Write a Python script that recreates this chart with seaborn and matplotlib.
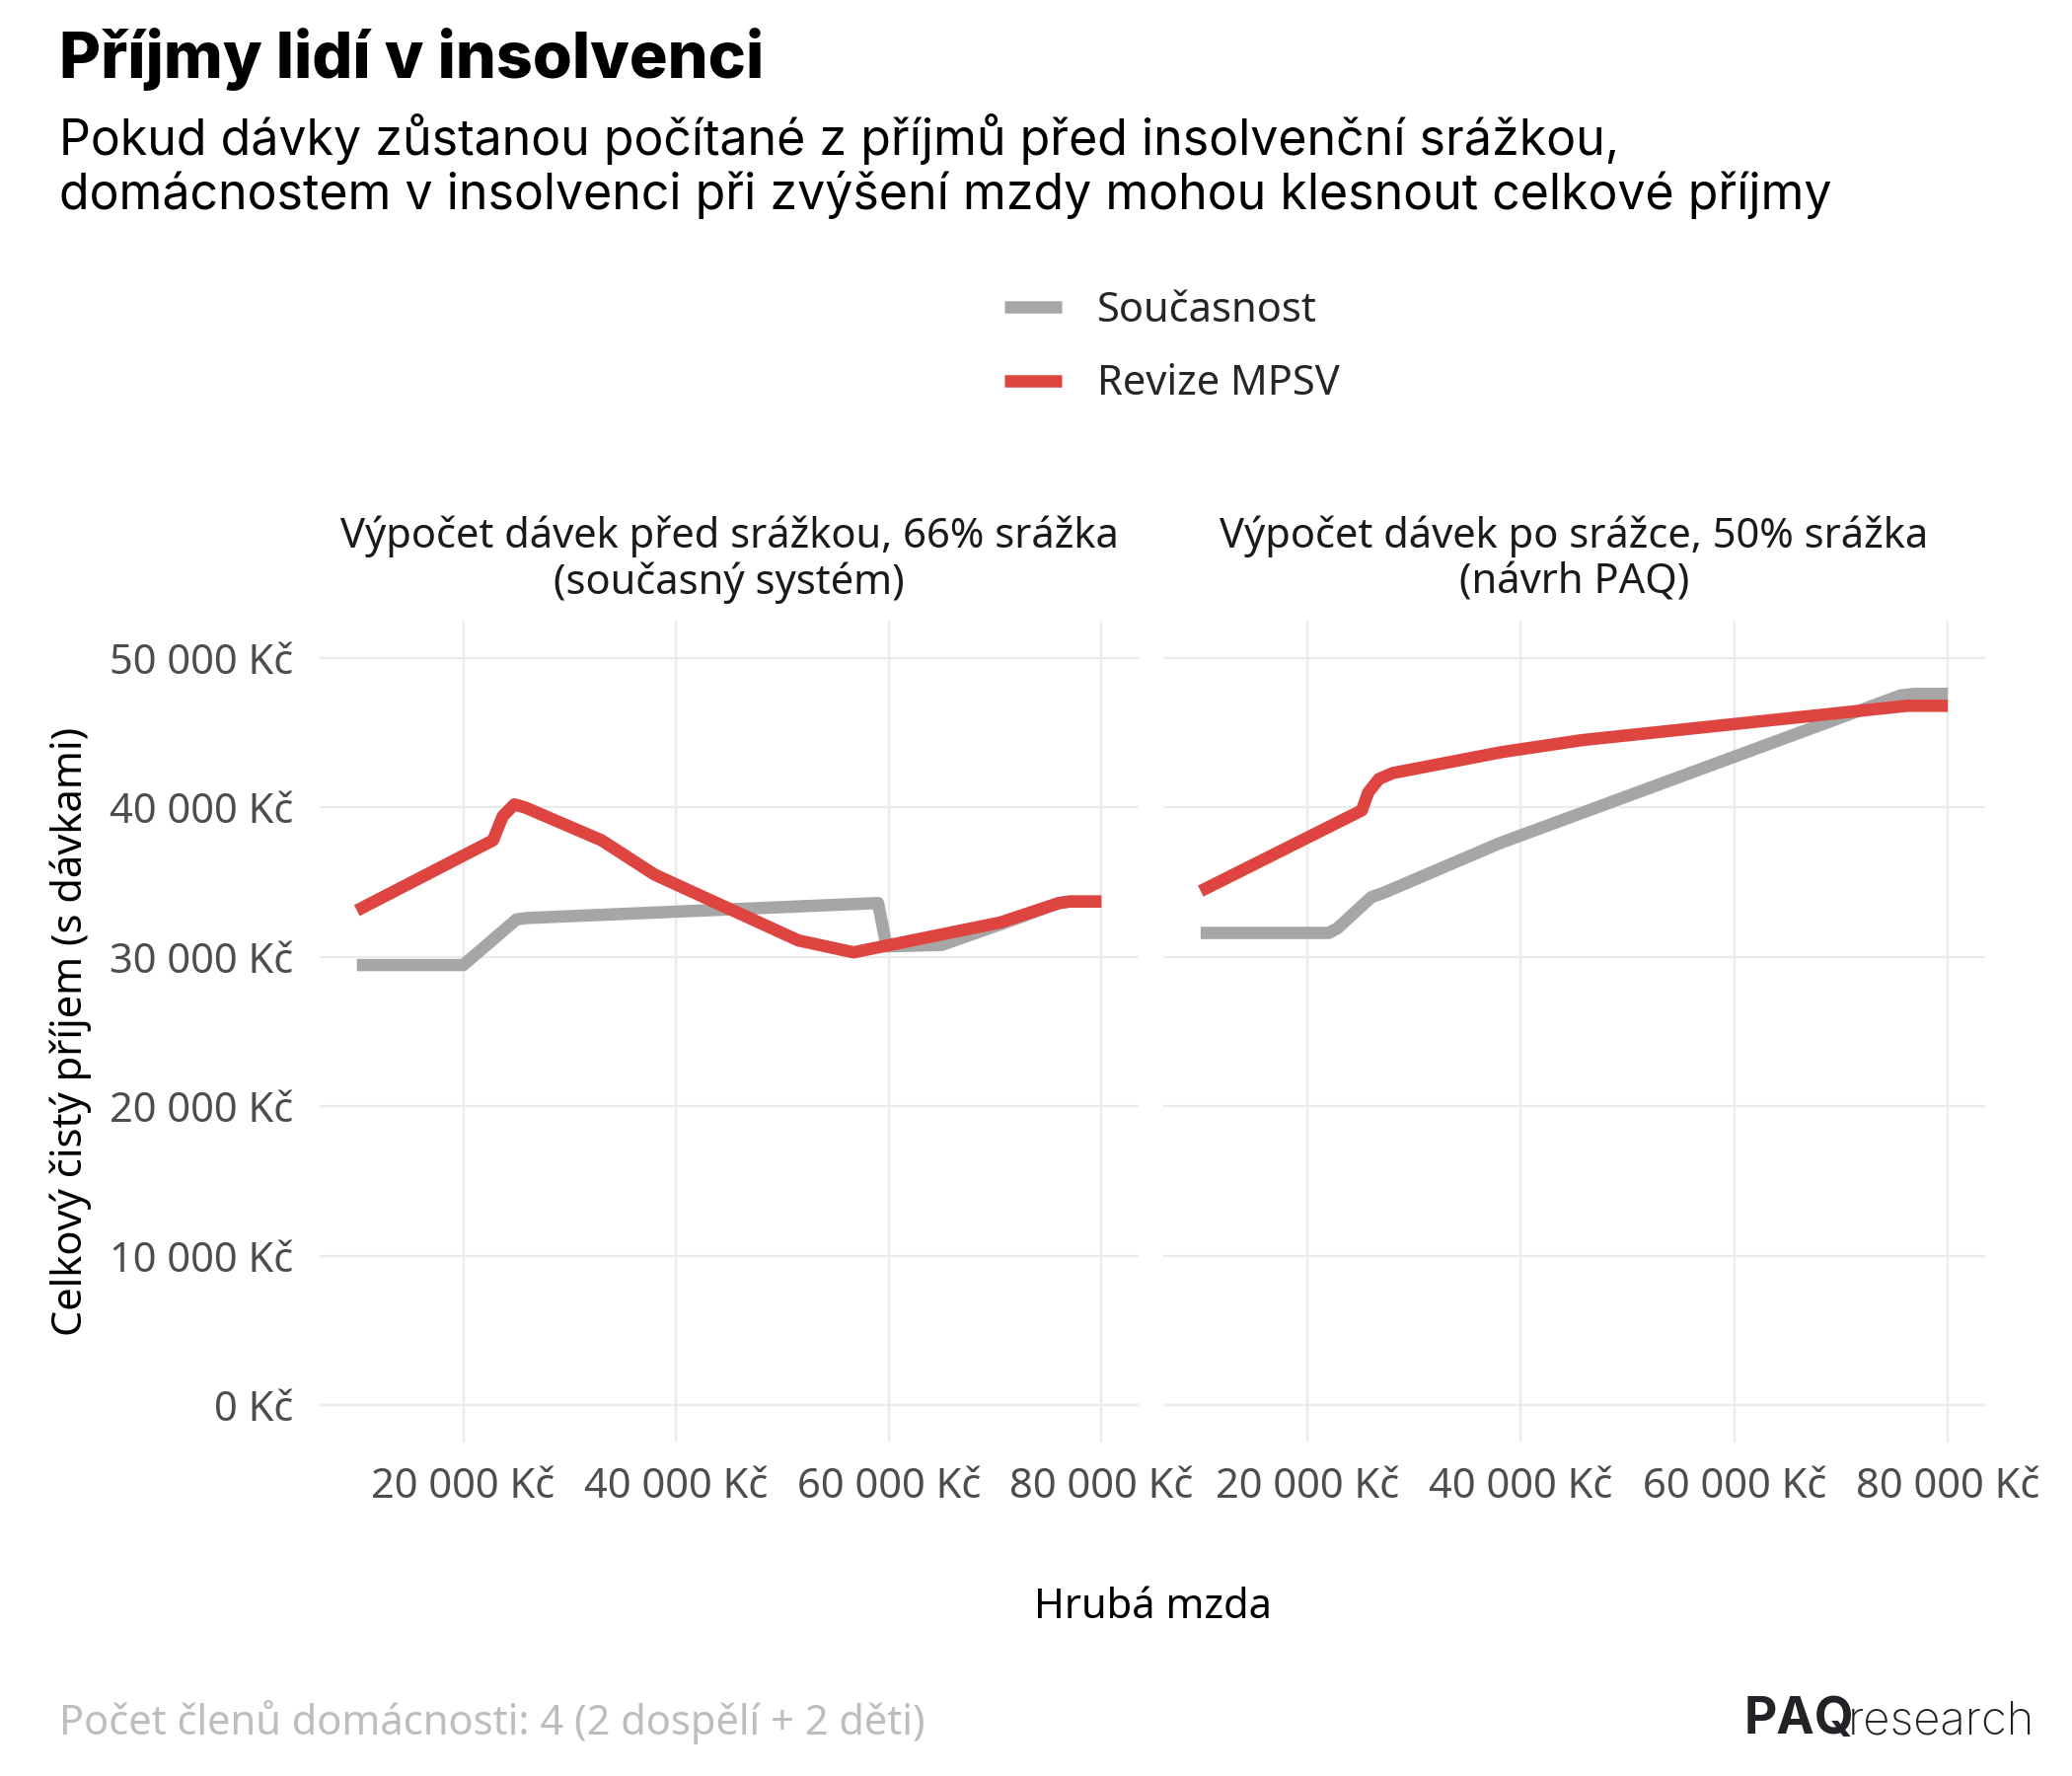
import pandas as pd
import matplotlib.pyplot as plt
from matplotlib.lines import Line2D
from matplotlib.ticker import FuncFormatter
import seaborn as sns

# panel titles and series
panels = ["Výpočet dávek před srážkou, 66% srážka", "Výpočet dávek po srážce, 50% srážka"]
panel_notes = ["(současný systém)", "(návrh PAQ)"]
series = ["Současnost", "Revize MPSV"]
colors = ["#A6A6A6", "#DE4541"]

# left panel (výpočet před srážkou)
left_now_x = [10000, 20000, 25000, 26000, 59000, 59800, 65000, 71000, 76000, 77000, 80000]
left_now_y = [29450, 29450, 32500, 32600, 33600, 30700, 30800, 32300, 33600, 33700, 33700]
left_mpsv_x = [10000, 22800, 23700, 24800, 25800, 33000, 38000, 51500, 56700, 70500, 76000, 77000, 80000]
left_mpsv_y = [33100, 37800, 39400, 40200, 40000, 37800, 35500, 31100, 30300, 32300, 33600, 33700, 33700]

# right panel (výpočet po srážce)
right_now_x = [10000, 22000, 22800, 26000, 27200, 38000, 75600, 77000, 80000]
right_now_y = [31600, 31600, 31900, 34000, 34300, 37600, 47500, 47600, 47600]
right_mpsv_x = [10000, 25100, 25700, 26700, 28000, 38200, 45700, 76200, 80000]
right_mpsv_y = [34400, 39800, 41000, 41900, 42300, 43700, 44500, 46800, 46800]

x_ticks = [20000, 40000, 60000, 80000]
y_ticks = [0, 10000, 20000, 30000, 40000, 50000]


def build_df():
    parts = []
    for panel, s, xs, ys in [
        (panels[0], series[0], left_now_x, left_now_y),
        (panels[0], series[1], left_mpsv_x, left_mpsv_y),
        (panels[1], series[0], right_now_x, right_now_y),
        (panels[1], series[1], right_mpsv_x, right_mpsv_y),
    ]:
        parts.append(pd.DataFrame({"panel": panel, "scenar": s, "mzda": xs, "prijem": ys}))
    return pd.concat(parts, ignore_index=True)


def kc(v, pos=None):
    return f"{v:,.0f}".replace(",", " ") + " Kč"


def main():
    df = build_df()
    sns.set_style("white")
    plt.rcParams["font.family"] = ["Noto Sans", "DejaVu Sans"]

    W, H = 2100, 1800
    fs = 30
    fig = plt.figure(figsize=(21, 18), dpi=100)
    bottom = 1 - 1462 / H
    height = 833 / H
    ax1 = fig.add_axes([324 / W, bottom, 830 / W, height])
    ax2 = fig.add_axes([1179 / W, bottom, 833 / W, height], sharey=ax1)

    for ax, panel, note in zip([ax1, ax2], panels, panel_notes):
        sub = df[df["panel"] == panel]
        sns.lineplot(data=sub, x="mzda", y="prijem", hue="scenar", hue_order=series,
                     palette=colors, lw=9, sort=False, estimator=None, legend=False,
                     solid_capstyle="butt", ax=ax)
        ax.set_xlim(6500, 83500)
        ax.set_ylim(-2500, 52500)
        ax.set_xticks(x_ticks)
        ax.set_yticks(y_ticks)
        ax.xaxis.set_major_formatter(FuncFormatter(kc))
        ax.yaxis.set_major_formatter(FuncFormatter(kc))
        ax.grid(True, color="#EBEBEB", lw=1.6)
        ax.set_axisbelow(True)
        for sp in ax.spines.values():
            sp.set_visible(False)
        ax.tick_params(length=0, labelsize=fs, colors="#4D4D4D")
        ax.tick_params(axis="y", pad=19)
        ax.tick_params(axis="x", pad=17)
        ax.set_xlabel("")
        ax.set_ylabel("")
        ax.text(0.5, 1 + (629 - 555) / 833, panel, transform=ax.transAxes,
                ha="center", va="baseline", fontsize=fs, color="#1A1A1A")
        ax.text(0.5, 1 + (629 - 602) / 833, note, transform=ax.transAxes,
                ha="center", va="baseline", fontsize=fs, color="#1A1A1A")
    ax2.tick_params(axis="y", labelleft=False)

    # titles
    fig.text(60 / W, 1 - 79 / H, "Příjmy lidí v insolvenci", fontfamily="Inter",
             fontweight="heavy", fontsize=46.5, va="baseline", color="black")
    fig.text(60 / W, 1 - 157 / H, "Pokud dávky zůstanou počítané z příjmů před insolvenční srážkou,",
             fontfamily="Inter", fontsize=36, va="baseline", color="black")
    fig.text(60 / W, 1 - 212 / H, "domácnostem v insolvenci při zvýšení mzdy mohou klesnout celkové příjmy",
             fontfamily="Inter", fontsize=36, va="baseline", color="black")

    # axis labels
    fig.text(72 / W, 1 - 1045 / H, "Celkový čistý příjem (s dávkami)", rotation=90,
             ha="center", va="center", fontsize=fs, color="black")
    fig.text(1168 / W, 1 - 1629 / H, "Hrubá mzda", ha="center", va="center",
             fontsize=fs, color="black")

    # legend
    handles = [Line2D([], [], color=c, lw=9, solid_capstyle="butt") for c in colors]
    fig.legend(handles, series, loc="center left", bbox_to_anchor=(1018 / W, 1 - 352 / H),
               frameon=False, fontsize=fs, handlelength=1.4, handletextpad=0.85,
               labelspacing=0.78, borderpad=0, borderaxespad=0)

    # footer
    fig.text(60 / W, 1 - 1746 / H, "Počet členů domácnosti: 4 (2 dospělí + 2 děti)",
             ha="left", va="center", fontsize=fs, color="#BDBDBD")
    fig.text(1768 / W, 1 - 1757 / H, "PAQ", fontfamily="Inter", fontweight="bold",
             fontsize=37, va="baseline", color="#222326")
    fig.text(2062 / W, 1 - 1757 / H, "research", fontfamily="Inter", fontweight="light",
             fontsize=34, ha="right", va="baseline", color="#222326")

    fig.savefig("out.png", dpi=100, facecolor="white")


if __name__ == "__main__":
    main()
